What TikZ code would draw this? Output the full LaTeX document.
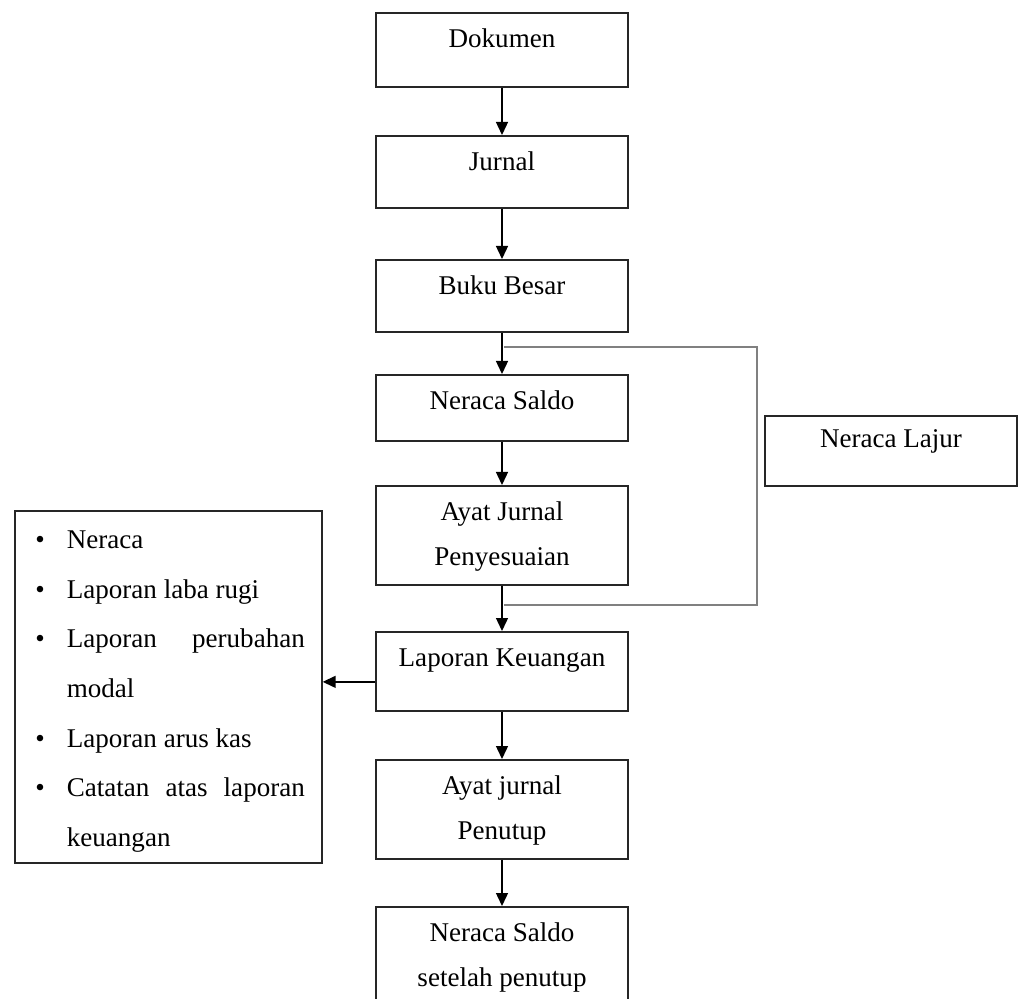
\documentclass[tikz,border=0pt]{standalone}
\usepackage{fontspec}
\setmainfont{Liberation Serif}
\usetikzlibrary{arrows.meta}

\newcommand{\itm}{\leavevmode\llap{\textbullet\hspace{0.44cm}}}

\begin{document}
\begin{tikzpicture}[x=0.02cm,y=-0.02cm,
box/.style={draw=black!85,line width=1pt,anchor=north,text width=5.04cm,align=flush center,
  inner sep=0pt,text height=0.7cm,font=\fontsize{15.4pt}{25.6pt}\selectfont},
lst/.style={draw=black!85,line width=1pt,anchor=north west,text width=6.14cm,align=justify,
  inner sep=0pt,text height=0.76cm,text depth=6.28cm,font=\fontsize{15.4pt}{28.2pt}\selectfont},
arr/.style={-{Triangle[width=0.24cm,length=0.26cm]},line width=0.8pt},
back/.style={draw=black!50,line width=1.3pt}]
\clip (0,0) rectangle (1021,999);
\draw
(502,12) node[box,text depth=0.78cm](dok){Dokumen}
(502,135) node[box,text depth=0.74cm](jur){Jurnal}
(502,259) node[box,text depth=0.74cm](bb){Buku Besar}
(502,374) node[box,text depth=0.62cm](ns){Neraca Saldo}
(502,485) node[box,text depth=1.28cm](ajp){Ayat Jurnal\\Penyesuaian}
(502,631) node[box,text depth=0.88cm](lk){Laporan Keuangan}
(502,759) node[box,text depth=1.28cm](ajt){Ayat jurnal\\Penutup}
(502,906) node[box,text depth=1.5cm](nsp){Neraca Saldo\\setelah penutup}
(891,415) node[box,text height=0.64cm,text depth=0.76cm](nl){Neraca Lajur}
(14,510) node[lst](lap){\leftskip=1.04cm \rightskip=0.34cm \parindent=0pt
  \sloppy\hyphenpenalty=10000
  \itm Neraca\par
  \itm Laporan laba rugi\par
  \itm Laporan perubahan modal\par
  \itm Laporan arus kas\par
  \itm Catatan atas laporan keuangan\par}
;
%%% Arrows down the middle
\foreach \a/\b in {dok/jur,jur/bb,bb/ns,ns/ajp,ajp/lk,lk/ajt,ajt/nsp}{
\draw[arr](\a) -- (\b);
}
%%% Line round Neraca Lajur
\coordinate (fork) at (504,347);
\coordinate (turn) at (757,605);
\coordinate (join) at (504,605);
\draw[back](fork) -| (turn) -- (join);
%%% Arrow to the list
\coordinate (lkout) at ([yshift=-0.21cm]lk.west);
\draw[arr](lkout) -- (lkout -| lap.east);
\end{tikzpicture}
\end{document}
